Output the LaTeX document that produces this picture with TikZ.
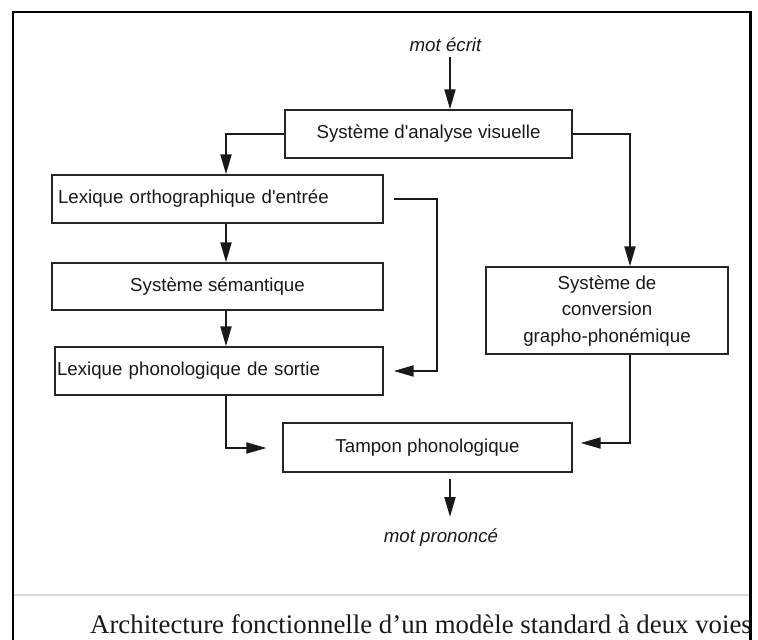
\documentclass[tikz,border=0pt]{standalone}
\usepackage{fontspec}
\setmainfont{Liberation Sans}
\newfontfamily\capfont{Liberation Serif}
\usetikzlibrary{arrows.meta,calc}
\begin{document}
\begin{tikzpicture}[x=1pt,y=-1pt,
  box/.style={draw=black!85, line width=1.4pt, inner sep=0pt,
    font=\fontsize{18.7}{26.5}\selectfont, text=black!90},
  lbl/.style={inner sep=0pt, font=\fontsize{18.7}{26.5}\selectfont\itshape, text=black!90},
  arr/.style={line width=2pt, black!90, -{Triangle[length=20pt,width=11pt]}}]
\useasboundingbox (0,0) rectangle (758,640);
% nodes
\node[lbl, anchor=base] (motecrit) at (445.5,51) {mot écrit};
\node[box, minimum width=287pt, minimum height=48pt] (analyse) at (428.5,134)
  {Système d\textquotesingle analyse visuelle\hspace{30pt}};
\node[box, minimum width=331pt, minimum height=48pt, text width=319pt, inner xsep=6pt, align=left] (lexorth) at (217.5,199)
  {Lexique orthographique d\textquotesingle entrée};
\node[box, minimum width=331pt, minimum height=47pt] (sem) at (217.5,286.5)
  {Système sémantique\hspace{8pt}};
\node[box, minimum width=328pt, minimum height=48pt, text width=324pt, inner xsep=2pt, align=left] (lexphon) at (219,371)
  {Lexique phonologique de sortie};
\node[box, minimum width=242pt, minimum height=87pt] (conv) at (607,310.5)
  {\begin{tabular}{@{}c@{}}Système de\\conversion\\grapho-phonémique\end{tabular}\hspace{18pt}};
\node[box, minimum width=289pt, minimum height=49pt] (tampon) at (427.5,447.5)
  {Tampon phonologique\hspace{27pt}};
\node[lbl, anchor=base] (motpron) at (441,542) {mot prononcé};
% connectors
\coordinate (inA) at ($(motecrit.south)+(4.5,6)$);
\draw[arr] (inA) -- (inA |- analyse.north);
\draw[arr] (analyse.west) -| ($(lexorth.north)+(8.5,0)$);
\draw[arr] ($(lexorth.south)+(8.5,0)$) -- ($(sem.north)+(8.5,0)$);
\draw[arr] ($(sem.south)+(8.5,0)$) -- ($(lexphon.north)+(7,0)$);
\draw[arr] ($(lexorth.east)+(10,0)$) -- ++(43,0) |- ($(lexphon.east)+(10,0)$);
\draw[arr] (analyse.east) -| ($(conv.north)+(23,0)$);
\draw[arr] ($(conv.south)+(23,0)$) |- ($(tampon.east)+(8,-4.5)$);
\draw[arr] ($(lexphon.south)+(7,0)$) |- ($(tampon.west)+(-16,0.5)$);
\coordinate (outA) at ($(tampon.south)+(22.5,6)$);
\draw[arr] (outA) -- (outA |- 0,517);
% caption area
\draw[black!15, line width=1.5pt] (14,595) -- (749,595);
\begin{scope}
  \clip (14,597) rectangle (749,640);
  \node[anchor=base west, inner sep=0pt, font=\capfont\fontsize{26.8}{30}\selectfont, text=black!90] (cap) at (90,633)
    {Architecture fonctionnelle d’un modèle standard à deux voies};
\end{scope}
% frame
\draw[line width=2.5pt, black] (13,641) -- (13,12) -- (750.5,12) -- (750.5,641);
\end{tikzpicture}
\end{document}
